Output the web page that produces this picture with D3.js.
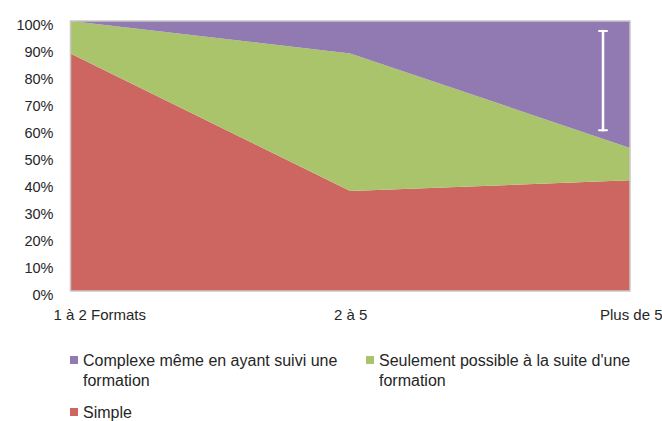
<!DOCTYPE html>
<html>
<head>
<meta charset="utf-8">
<script src="https://cdn.jsdelivr.net/npm/d3@7"></script>
<style>
  html, body { margin: 0; padding: 0; background: #fff; }
  svg { display: block; }
  text { font-family: "Liberation Sans", Arial, sans-serif; fill: #262626; }
</style>
</head>
<body>
<svg id="chart" width="662" height="421"></svg>
<script>
// Categories (number of formats) and the share of each answer, in percent
const categories = ["1 à 2 Formats", "2 à 5", "Plus de 5"];
const simple = [88, 37, 41];
const seulementFormation = [12, 51, 12];
const complexe = [0, 12, 47];
const yTicks = [0, 10, 20, 30, 40, 50, 60, 70, 80, 90, 100];

// Series, stacked from the bottom up
const seriesKeys = ["simple", "seulement", "complexe"];
const seriesColors = { simple: "#CD6660", seulement: "#AAC46B", complexe: "#917AB1" };

// White double arrow spanning the upper band on the right (percent)
const arrowSpan = [59.5, 96.3];

const rows = categories.map((c, i) => ({
  cat: c, simple: simple[i], seulement: seulementFormation[i], complexe: complexe[i]
}));

const svg = d3.select("#chart");
const plot = { left: 70.5, right: 630, top: 21, bottom: 291 };

const x = d3.scalePoint().domain(categories).range([plot.left, plot.right]);
const y = d3.scaleLinear().domain([0, 100]).range([plot.bottom, plot.top]);

const stacked = d3.stack().keys(seriesKeys)(rows);

const area = d3.area()
  .x(d => x(d.data.cat))
  .y0(d => y(d[0]))
  .y1(d => y(d[1]));

svg.append("g").selectAll("path")
  .data(stacked)
  .join("path")
  .attr("d", area)
  .attr("fill", d => seriesColors[d.key]);

// Plot frame
svg.append("rect")
  .attr("x", plot.left).attr("y", plot.top)
  .attr("width", plot.right - plot.left).attr("height", plot.bottom - plot.top)
  .attr("fill", "none").attr("stroke", "#C8C8C8").attr("stroke-width", 1.5);

// Y axis
const yAxis = d3.axisLeft(y).tickValues(yTicks).tickFormat(d => d + "%").tickSize(0).tickPadding(17);
const gy = svg.append("g").attr("transform", `translate(${plot.left},0)`).call(yAxis);
gy.select(".domain").remove();
gy.selectAll("text")
  .style("font-size", "14.5px")
  .attr("dy", "0.6em");

// X axis
const xAxis = d3.axisBottom(x).tickSize(0).tickPadding(24);
const gx = svg.append("g").attr("transform", `translate(0,${plot.bottom})`).call(xAxis);
gx.select(".domain").remove();
gx.selectAll("text")
  .style("font-size", "15px")
  .attr("dy", "0.35em")
  .attr("text-anchor", (d, i) => i === 0 ? "start" : i === categories.length - 1 ? "end" : "middle")
  .attr("x", (d, i) => i === 0 ? -17.5 : i === categories.length - 1 ? 32 : 0);

// Arrow annotation
const ax = x(categories[categories.length - 1]) - 27;
const arrow = svg.append("g").attr("stroke", "#fff").attr("stroke-linecap", "round");
arrow.append("line")
  .attr("x1", ax).attr("x2", ax)
  .attr("y1", y(arrowSpan[1])).attr("y2", y(arrowSpan[0]))
  .attr("stroke-width", 2.5);
[arrowSpan[1], arrowSpan[0]].forEach(v => {
  arrow.append("line")
    .attr("x1", ax - 4).attr("x2", ax + 4)
    .attr("y1", y(v)).attr("y2", y(v))
    .attr("stroke-width", 2);
});

// Legend
const legendItems = [
  { key: "complexe", x: 70, y: 356, lines: ["Complexe même en ayant suivi une", "formation"] },
  { key: "seulement", x: 366, y: 356, lines: ["Seulement possible à la suite d'une", "formation"] },
  { key: "simple", x: 70, y: 408, lines: ["Simple"] }
];
const lg = svg.append("g");
legendItems.forEach(it => {
  lg.append("rect")
    .attr("x", it.x).attr("y", it.y)
    .attr("width", 8).attr("height", 8)
    .attr("fill", seriesColors[it.key]);
  const t = lg.append("text")
    .attr("x", it.x + 13).attr("y", it.y + 9.5)
    .style("font-size", "16px");
  it.lines.forEach((line, j) => {
    t.append("tspan").attr("x", it.x + 13).attr("dy", j === 0 ? 0 : 20).text(line);
  });
});
</script>
</body>
</html>
